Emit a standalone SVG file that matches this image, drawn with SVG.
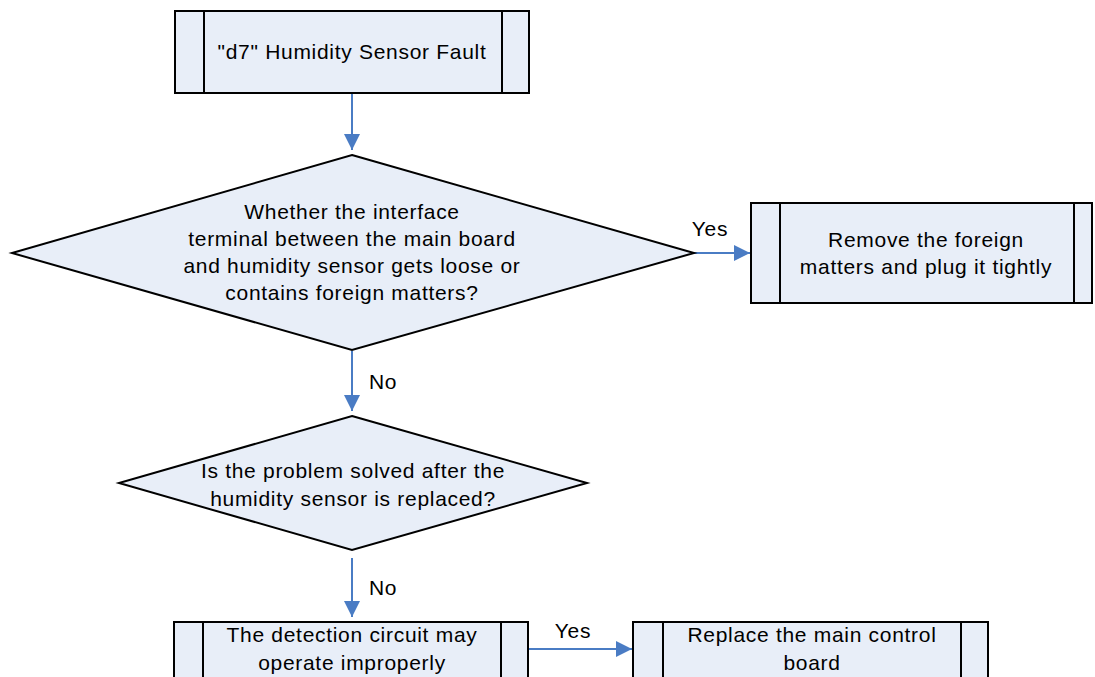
<svg xmlns="http://www.w3.org/2000/svg" width="1095" height="677" viewBox="0 0 1095 677">
<style>
.box{fill:#E8EEF8;stroke:#000;stroke-width:2}
.ln{stroke:#000;stroke-width:2}
.t{font-family:"Liberation Sans",Arial,sans-serif;font-size:21px;letter-spacing:0.7px;fill:#000;text-anchor:middle}
.c{stroke:#4A7CC4;stroke-width:2;fill:none;marker-end:url(#ah)}
</style>
<defs>
<marker id="ah" viewBox="0 0 16 16" refX="16" refY="8" markerWidth="16" markerHeight="16" markerUnits="userSpaceOnUse" orient="auto">
<path d="M0,0 L16,8 L0,16 z" fill="#4A7CC4"/>
</marker>
</defs>
<g id="connectors">
<path class="c" d="M352,93 V150"/>
<path class="c" d="M694,253 H750"/>
<path class="c" d="M352,351 V411"/>
<path class="c" d="M352,558 V617"/>
<path class="c" d="M528,649 H632"/>
<text class="t" x="710" y="236">Yes</text>
<text class="t" x="383" y="389">No</text>
<text class="t" x="383" y="595">No</text>
<text class="t" x="573" y="638">Yes</text>
</g>
<g id="start">
<rect class="box" x="175" y="11" width="354" height="82"/>
<line class="ln" x1="204" y1="11" x2="204" y2="93"/>
<line class="ln" x1="502" y1="11" x2="502" y2="93"/>
<text class="t" x="352" y="59">"d7" Humidity Sensor Fault</text>
</g>
<g id="decision1">
<polygon class="box" points="352,155 694,253 352,350 12,253"/>
<text class="t" x="352" y="219">Whether the interface</text>
<text class="t" x="352" y="246">terminal between the main board</text>
<text class="t" x="352" y="273">and humidity sensor gets loose or</text>
<text class="t" x="352" y="300">contains foreign matters?</text>
</g>
<g id="remove">
<rect class="box" x="751" y="203" width="341" height="100"/>
<line class="ln" x1="780" y1="203" x2="780" y2="303"/>
<line class="ln" x1="1074" y1="203" x2="1074" y2="303"/>
<text class="t" x="926" y="247">Remove the foreign</text>
<text class="t" x="926" y="274">matters and plug it tightly</text>
</g>
<g id="decision2">
<polygon class="box" points="352,416 587,483 352,550 119,483"/>
<text class="t" x="353" y="478">Is the problem solved after the</text>
<text class="t" x="353" y="506">humidity sensor is replaced?</text>
</g>
<g id="detection">
<rect class="box" x="174" y="622" width="354" height="70"/>
<line class="ln" x1="203" y1="622" x2="203" y2="692"/>
<line class="ln" x1="501" y1="622" x2="501" y2="692"/>
<text class="t" x="352" y="642">The detection circuit may</text>
<text class="t" x="352" y="670">operate improperly</text>
</g>
<g id="replace">
<rect class="box" x="633" y="622" width="355" height="70"/>
<line class="ln" x1="663" y1="622" x2="663" y2="692"/>
<line class="ln" x1="961" y1="622" x2="961" y2="692"/>
<text class="t" x="812" y="642">Replace the main control</text>
<text class="t" x="812" y="670">board</text>
</g>
</svg>
